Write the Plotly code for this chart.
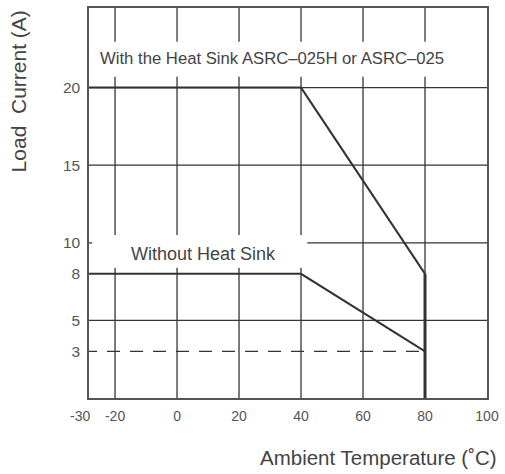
import plotly.graph_objects as go

# ---- data ----
temp_heat = [-30, 40, 80]
curr_heat = [20, 20, 8]
temp_cut = [80, 80]
curr_cut = [8, 0]
temp_noheat = [-30, 40, 80]
curr_noheat = [8, 8, 3]
temp_dash = [-30, 80]
curr_dash = [3, 3]

x_tickvals = [-20, 0, 20, 40, 60, 80, 100]
x_ticktext = ["-20", "0", "20", "40", "60", "80", "100"]
x_extra_label = "-30"
y_tickvals = [3, 5, 8, 10, 15, 20]
x_grid = [-20, 0, 20, 40, 60, 80]
y_grid = [5, 10, 15, 20]

X_MIN, X_MAX = -28.4, 100
Y_MIN, Y_MAX = 0, 25.13

line_col = "#333333"
grid_col = "#353535"
text_col = "#444444"
FONT = "Liberation Sans, Arial"

fig = go.Figure()

fig.add_trace(go.Scatter(x=temp_heat, y=curr_heat, mode="lines",
                         line=dict(color=line_col, width=2), showlegend=False))
fig.add_trace(go.Scatter(x=temp_cut, y=curr_cut, mode="lines",
                         line=dict(color=line_col, width=3), showlegend=False))
fig.add_trace(go.Scatter(x=temp_noheat, y=curr_noheat, mode="lines",
                         line=dict(color=line_col, width=2), showlegend=False))
fig.add_trace(go.Scatter(x=temp_dash, y=curr_dash, mode="lines",
                         line=dict(color=line_col, width=1.3, dash="13px,10px"),
                         showlegend=False))

shapes = []
for gx in x_grid:
    shapes.append(dict(type="line", xref="x", yref="y", x0=gx, x1=gx, y0=Y_MIN, y1=Y_MAX,
                       line=dict(color=grid_col, width=1.3), layer="below"))
for gy in y_grid:
    shapes.append(dict(type="line", xref="x", yref="y", x0=X_MIN, x1=X_MAX, y0=gy, y1=gy,
                       line=dict(color=grid_col, width=1.3), layer="below"))
# white label backgrounds interrupting the grid
shapes.append(dict(type="rect", xref="x", yref="y", x0=X_MIN, x1=X_MAX, y0=20.7, y1=22.95,
                   fillcolor="white", line=dict(width=0), layer="below"))
shapes.append(dict(type="rect", xref="x", yref="y", x0=-27.4, x1=42, y0=8.4, y1=10.5,
                   fillcolor="white", line=dict(width=0), layer="below"))

annotations = [
    dict(text="With the Heat Sink ASRC\u2013025H or ASRC\u2013025", x=30.5, y=21.9,
         xref="x", yref="y", showarrow=False, xanchor="center", yanchor="middle",
         font=dict(family=FONT, size=16.7, color=text_col)),
    dict(text="Without Heat Sink", x=8.5, y=9.3,
         xref="x", yref="y", showarrow=False, xanchor="center", yanchor="middle",
         font=dict(family=FONT, size=18, color=text_col)),
    dict(text=x_extra_label, x=-0.022, y=0, xref="paper", yref="paper",
         showarrow=False, xanchor="center", yanchor="top", yshift=-8,
         font=dict(family=FONT, size=14, color="#555555")),
    dict(text="Load  Current (A)", x=-0.176, y=0.786, xref="paper", yref="paper",
         textangle=-90, showarrow=False, xanchor="center", yanchor="middle",
         font=dict(family=FONT, size=21, color=text_col)),
    dict(text="Ambient Temperature (\u02daC)", x=1.03, y=-0.153, xref="paper", yref="paper",
         showarrow=False, xanchor="right", yanchor="middle",
         font=dict(family=FONT, size=20.5, color=text_col)),
]

fig.update_layout(
    width=505, height=474,
    margin=dict(l=89, r=13, t=6, b=76),
    paper_bgcolor="white", plot_bgcolor="white",
    shapes=shapes, annotations=annotations,
    xaxis=dict(range=[X_MIN, X_MAX], tickvals=x_tickvals, ticktext=x_ticktext,
               showgrid=False, zeroline=False, showline=True, mirror=True,
               linecolor="#555555", linewidth=1.5, ticks="", ticklabelstandoff=4,
               tickfont=dict(family=FONT, size=14, color="#555555")),
    yaxis=dict(range=[Y_MIN, Y_MAX], tickvals=y_tickvals,
               showgrid=False, zeroline=False, showline=True, mirror=True,
               linecolor="#555555", linewidth=1.5, ticks="", ticklabelstandoff=4,
               tickfont=dict(family=FONT, size=15.5, color="#555555")),
)

fig.write_html("out.html", config={"displayModeBar": False},
               post_script="document.body.style.margin='0';")
